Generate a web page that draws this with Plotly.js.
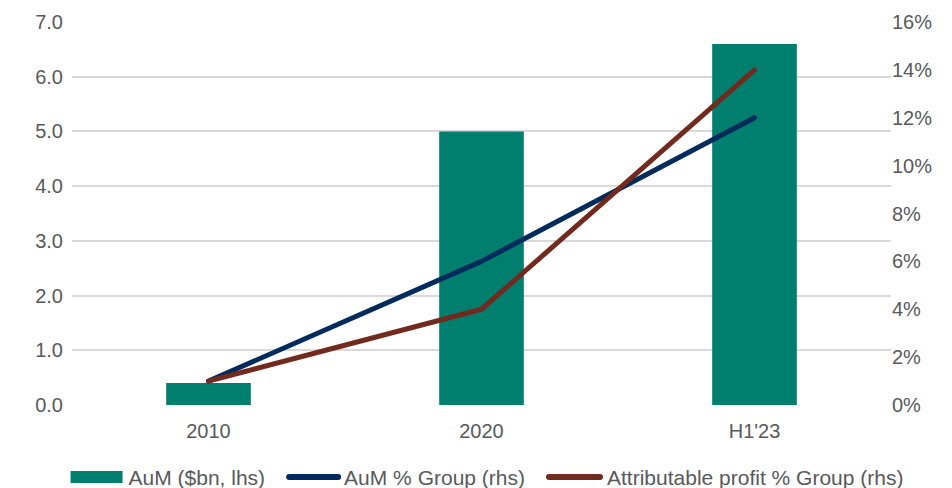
<!DOCTYPE html>
<html><head><meta charset="utf-8">
<script src="https://cdn.plot.ly/plotly-3.0.1.min.js"></script>
<style>html,body{margin:0;padding:0;background:#fff}#c{width:952px;height:488px}</style>
</head><body><div id="c"></div>
<script>
const categories = ["2010", "2020", "H1'23"];
const aum = [0.4, 5.0, 6.6];
const aumPctGroup = [1, 6, 12];
const profitPctGroup = [1, 4, 14];
const leftTicks = [0,1,2,3,4,5,6,7];
const rightTicks = [0,2,4,6,8,10,12,14,16];

const traces = [
  {type:'bar', x:categories, y:aum, name:'AuM ($bn, lhs)', marker:{color:'#007F6F'}, yaxis:'y'},
  {type:'scatter', mode:'lines', x:categories, y:aumPctGroup, name:'AuM % Group (rhs)', line:{color:'#002B5C', width:5}, yaxis:'y2'},
  {type:'scatter', mode:'lines', x:categories, y:profitPctGroup, name:'Attributable profit % Group (rhs)', line:{color:'#722A1E', width:5}, yaxis:'y2'}
];
const fam = '"Liberation Sans", Arial, sans-serif';
const font = {family:fam, size:20, color:'#595959'};
const layout = {
  width:952, height:488,
  margin:{l:72, r:61, t:22, b:83, autoexpand:false},
  paper_bgcolor:'#fff', plot_bgcolor:'#fff',
  font:font,
  bargap:0.69,
  showlegend:true,
  legend:{orientation:'h', x:0.5, xanchor:'center', xref:'container', yref:'container', y:0.022, yanchor:'middle', font:{family:fam, size:21, color:'#595959'}, bgcolor:'rgba(0,0,0,0)', itemwidth:40, tracegroupgap:0},
  xaxis:{type:'category', showgrid:false, zeroline:false, showline:false, ticks:'', tickfont:font, ticklabelstandoff:12, automargin:false},
  yaxis:{range:[0,7], tickvals:leftTicks, ticktext:leftTicks.map(v=>v.toFixed(1)), showgrid:true, gridcolor:'#D9D9D9', gridwidth:2, zeroline:false, showline:false, ticks:'', ticklabelstandoff:8, tickfont:font, automargin:false},
  yaxis2:{overlaying:'y', side:'right', range:[0,16], tickvals:rightTicks, ticktext:rightTicks.map(v=>v+'%'), showgrid:false, zeroline:false, showline:false, ticks:'', tickfont:font, automargin:false}
};
Plotly.newPlot('c', traces, layout, {displayModeBar:false, staticPlot:true}).then(gd => {
  // rounded line caps like the reference
  gd.querySelectorAll('.scatterlayer path.js-line').forEach(p => { p.style.strokeLinecap = 'round'; p.style.strokeLinejoin = 'round'; });
  // wider Excel-style legend keys
  try {
    const leg = gd.querySelector('.legend');
    const re = /translate\(\s*([-\d.e]+)[ ,]+([-\d.e]+)\s*\)/;
    const lm = re.exec(leg.getAttribute('transform'));
    const lx = +lm[1];
    const sb = leg.querySelector('.scrollbox');
    if (sb) sb.removeAttribute('clip-path');
    leg.querySelectorAll('[clip-path]').forEach(e => e.removeAttribute('clip-path'));
    const groups = Array.from(leg.querySelectorAll('.traces'));
    const symW = [52, 55, 57];
    const gapST = [6, 3, 4];
    const itemGap = 21;
    const widths = groups.map((g, i) => symW[i] + gapST[i] + g.querySelector('text.legendtext').getComputedTextLength());
    const total = widths.reduce((a, b) => a + b, 0) + itemGap * (groups.length - 1);
    let x = 487 - total / 2;
    groups.forEach((g, i) => {
      const tm = re.exec(g.getAttribute('transform'));
      g.setAttribute('transform', `translate(${x - lx},${tm[2]})`);
      const bar = g.querySelector('.legendpoints path');
      const line = g.querySelector('.legendlines path');
      if (i === 0 && bar) {
        bar.setAttribute('d', `M0,-6H${symW[i]}V6H0Z`);
        bar.removeAttribute('transform');
      }
      if (line) {
        line.setAttribute('d', `M3,0h${symW[i] - 6}`);
        line.style.strokeLinecap = 'round';
        line.style.strokeWidth = '6px';
      }
      const t = g.querySelector('text.legendtext');
      t.setAttribute('x', symW[i] + gapST[i]);
      const r = g.querySelector('rect.legendtoggle');
      if (r) r.setAttribute('width', widths[i]);
      x += widths[i] + itemGap;
    });
  } catch (e) { console.log(e); }
});
</script></body></html>
